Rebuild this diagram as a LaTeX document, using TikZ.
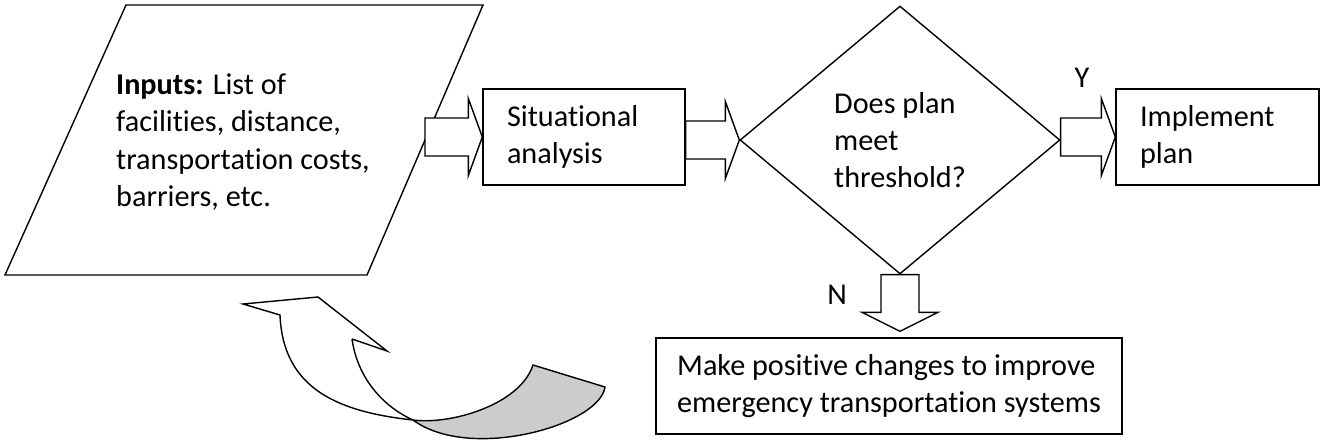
\documentclass[tikz,border=0pt]{standalone}
\usepackage{fontspec}
\setmainfont[RawFeature={-liga;-clig;-calt;-dlig}]{Carlito}
\usetikzlibrary{calc,shapes.geometric}

% block arrows between two nodes
\newcommand{\harrow}[2]{%
  \draw[fatarrow] let \p1=(#1), \p2=(#2) in
    (\x1,\y2+0.38cm) -- (\x2-0.28cm,\y2+0.38cm) -- (\x2-0.28cm,\y2+0.77cm)
    -- (\x2,\y2) -- (\x2-0.28cm,\y2-0.77cm) -- (\x2-0.28cm,\y2-0.38cm)
    -- (\x1,\y2-0.38cm) -- cycle;}
\newcommand{\varrow}[2]{%
  \draw[fatarrow] let \p1=(#1), \p2=(#2) in
    (\x1-0.38cm,\y1) -- (\x1-0.38cm,\y2+0.38cm) -- (\x1-0.76cm,\y2+0.38cm)
    -- (\x1,\y2) -- (\x1+0.76cm,\y2+0.38cm) -- (\x1+0.38cm,\y2+0.38cm)
    -- (\x1+0.38cm,\y1) -- cycle;}

\begin{document}
\begin{tikzpicture}
[x=0.02cm, y=-0.02cm, line width=0.8pt,
 every node/.style={font=\fontsize{17.2}{21.2}\selectfont},
 box/.style={draw, rectangle, minimum height=1.92cm, align=left},
 fatarrow/.style={draw, fill=white, line join=miter}]
\useasboundingbox (0,0) rectangle (1321,444);

% input parallelogram
\draw (126,5) -- (483,5) -- (367,275) -- (5,275) -- cycle;
\coordinate (inr) at (425,140);
\node[align=left] (in) at (243,142)
  {\textbf{Inputs:} List of\\facilities, distance,\\transportation costs,\\barriers, etc.};
\node[box, text width=3.08cm, inner xsep=0.48cm] (sit) at (584,137)
  {Situational\\analysis};
\node[draw, diamond, minimum width=6.4cm, minimum height=5.36cm,
      inner sep=0pt, align=left] (dec) at (900,140)
  {Does plan\\meet\\threshold?};
\node[box, text width=3.1cm, inner xsep=0.48cm] (impl) at (1217.5,137)
  {Implement\\plan};
\node[box, minimum width=9.32cm] (act) at (889,386)
  {Make positive changes to improve\\emergency transportation systems};
\node (yl) at (1082,78) {Y};
\node (nl) at (837,295) {N};

\harrow{inr}{sit.west}
\harrow{sit.east}{dec.west}
\harrow{dec.east}{impl.west}
\varrow{dec.south}{[yshift=0.12cm]act.north}

% curved arrow back to the inputs
\fill[gray!40] (413,420) .. controls (470,462) and (600,425) .. (605,387)
  -- (533,365) .. controls (520,405) and (450,425) .. (413,420) -- cycle;
\draw[line join=miter] (352,339) -- (387,351) -- (318,297) -- (243,304) -- (280,315)
  .. controls (283,390) and (340,412) .. (413,420)
  .. controls (470,462) and (600,425) .. (605,387)
  -- (533,365)
  .. controls (520,405) and (450,425) .. (413,420)
  .. controls (380,405) and (357,375) .. (352,339);
\end{tikzpicture}
\end{document}
